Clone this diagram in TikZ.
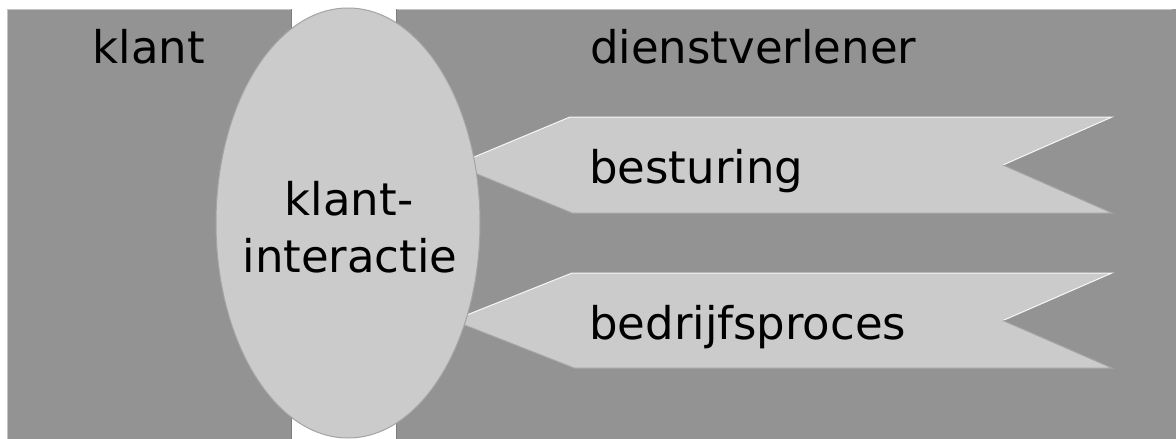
\documentclass[tikz,border=0pt]{standalone}
\usepackage{fontspec}
\setmainfont{DejaVu Sans}
\usetikzlibrary{shapes.geometric}
\definecolor{darkpanel}{HTML}{939393}
\definecolor{lightpart}{HTML}{CBCBCB}
\definecolor{edgelight}{HTML}{C4C4C4}
\definecolor{edgedark}{HTML}{7E7E7E}
\definecolor{edgemid}{HTML}{A4A4A4}
\tikzset{
  panel/.style={fill=darkpanel},
  banner/.style={fill=lightpart},
  label/.style={inner sep=0pt, font=\fontsize{45}{54}\selectfont, text=black},
}
\begin{document}
\begin{tikzpicture}[x=1pt,y=-1pt]
\useasboundingbox (0,0) rectangle (1176,439);
\fill[white] (0,0) rectangle (1176,439);
% panels
\fill[panel] (7,9) rectangle (291,439);
\draw[edgelight,line width=1pt] (7,439) -- (7,9) -- (291,9);
\draw[edgedark,line width=1pt] (291,9) -- (291,439);
\fill[panel] (396,9) rectangle (1176,439);
\draw[edgelight,line width=1pt] (396,439) -- (396,9) -- (1172,9);
\draw[edgedark,line width=1pt] (396.5,9) -- (396.5,439);
% banners
\fill[banner] (455,165) -- (570,117) -- (1112,117) -- (1003,165) -- (1112,213) -- (572,213) -- cycle;
\draw[white!85!lightpart,line width=1pt] (455,165) -- (570,117) -- (1112,117) -- (1003,165);
\draw[edgemid,line width=1pt] (1003,165) -- (1112,213) -- (572,213) -- (455,165);
\fill[banner] (453,320.5) -- (572,273) -- (1112,273) -- (1003,320.5) -- (1112,368) -- (574,368) -- cycle;
\draw[white!85!lightpart,line width=1pt] (453,320.5) -- (572,273) -- (1112,273) -- (1003,320.5);
\draw[edgemid,line width=1pt] (1003,320.5) -- (1112,368) -- (574,368) -- (453,320.5);
% ellipse
\node[ellipse, fill=lightpart, draw=edgemid, line width=1pt, minimum width=264pt, minimum height=430pt, inner sep=0pt] (inter) at (348,223) {};
% texts
\node[label, anchor=base] (klant) at (149,63) {klant};
\node[label, anchor=base west] (dienst) at (590,63) {dienstverlener};
\node[label, anchor=base west] (best) at (589,183) {besturing};
\node[label, anchor=base west] (bedr) at (589,339) {bedrijfsproces};
\node[label, anchor=base] (kl2) at (349,215) {klant-};
\node[label, anchor=base] (int) at (350,272) {interactie};
\end{tikzpicture}
\end{document}
